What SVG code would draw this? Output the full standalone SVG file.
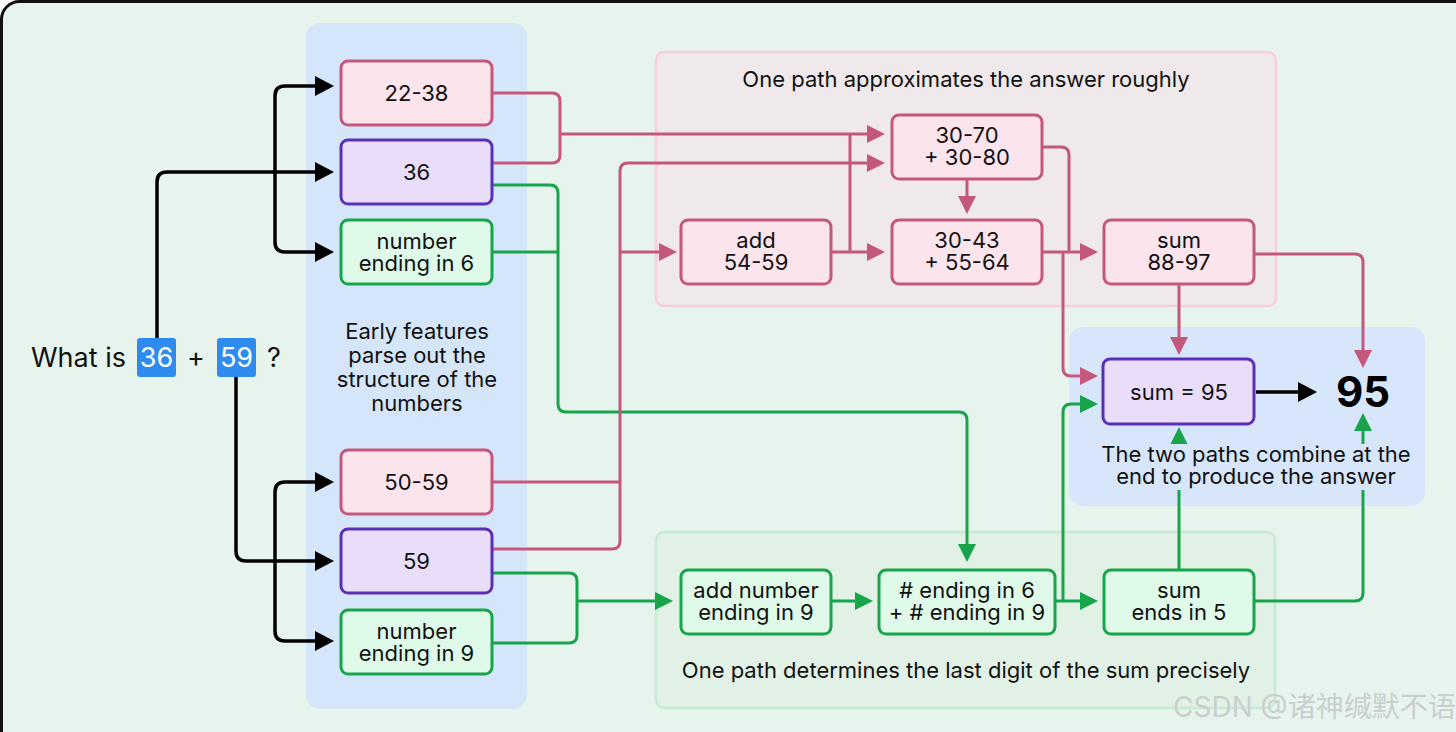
<svg xmlns="http://www.w3.org/2000/svg" width="1456" height="732" viewBox="0 0 1456 732">
<style>
.t{font-family:Inter,"Liberation Sans",sans-serif;font-size:22px;fill:#111;text-anchor:middle}
.pk{fill:#FCE4EC;stroke:#C4587C;stroke-width:3}
.pu{fill:#E9DDFA;stroke:#5B2FB5;stroke-width:3}
.gr{fill:#DFFAE8;stroke:#18A44B;stroke-width:3}
.cp{fill:none;stroke:#C4587C;stroke-width:3}
.cg{fill:none;stroke:#18A44B;stroke-width:3}
.cb{fill:none;stroke:#000;stroke-width:3.5}
.tok{fill:#2E8CF0}
</style>
<defs>
<marker id="ap" markerUnits="userSpaceOnUse" markerWidth="18" markerHeight="18" refX="14" refY="9" orient="auto" overflow="visible"><path d="M0,0 L18,9 L0,18 z" fill="#C4587C"/></marker>
<marker id="ag" markerUnits="userSpaceOnUse" markerWidth="18" markerHeight="18" refX="14" refY="9" orient="auto" overflow="visible"><path d="M0,0 L18,9 L0,18 z" fill="#18A44B"/></marker>
<marker id="ab" markerUnits="userSpaceOnUse" markerWidth="19" markerHeight="20" refX="15" refY="10" orient="auto" overflow="visible"><path d="M0,0 L19,10 L0,20 z" fill="#000"/></marker>
</defs>
<rect x="0" y="0" width="1456" height="732" fill="#fff"/>
<rect x="1.5" y="1.5" width="1500" height="800" rx="18" fill="#E7F4EE" stroke="#111" stroke-width="3"/>

<g id="panels">
<rect x="306" y="23" width="221" height="686" rx="14" fill="#D6E6FA"/>
<rect x="656" y="52" width="620" height="254" rx="8" fill="#EFE9EC" stroke="#F8CEDB" stroke-width="2.5"/>
<rect x="656" y="532" width="619" height="176" rx="8" fill="#E2F1E6" stroke="#C6EBD2" stroke-width="2.5"/>
<rect x="1069" y="327" width="356" height="179" rx="14" fill="#D7E6FA"/>
</g>

<g id="connectors">
<g id="green-connectors">
<path class="cg" d="M492,185 H550 Q558,185 558,193 V404 Q558,412 566,412 H959 Q967,412 967,420 V558" marker-end="url(#ag)"/>
<path class="cg" d="M492,252 H558"/>
<path class="cg" d="M492,573 H569 Q577,573 577,581 V635 Q577,643 569,643 H492"/>
<path class="cg" d="M577,601 H669" marker-end="url(#ag)"/>
<path class="cg" d="M831,601 H869" marker-end="url(#ag)"/>
<path class="cg" d="M1055,601 H1094" marker-end="url(#ag)"/>
<path class="cg" d="M1063,601 V412 Q1063,404 1071,404 H1094" marker-end="url(#ag)"/>
<path class="cg" d="M1179,570 V431" marker-end="url(#ag)"/>
<path class="cg" d="M1254,601 H1355 Q1363,601 1363,593 V417" marker-end="url(#ag)"/>
</g>
<g id="pink-connectors">
<path class="cp" d="M492,93 H552 Q560,93 560,101 V155 Q560,163 552,163 H492"/>
<path class="cp" d="M560,134 H881" marker-end="url(#ap)"/>
<path class="cp" d="M850,134 V252"/>
<path class="cp" d="M831,252 H881" marker-end="url(#ap)"/>
<path class="cp" d="M492,549 H612 Q620,549 620,541 V171 Q620,163 628,163 H881" marker-end="url(#ap)"/>
<path class="cp" d="M492,482 H620"/>
<path class="cp" d="M620,252 H673" marker-end="url(#ap)"/>
<path class="cp" d="M967,179 V210" marker-end="url(#ap)"/>
<path class="cp" d="M1042,147 H1061 Q1069,147 1069,155 V252"/>
<path class="cp" d="M1042,252 H1094" marker-end="url(#ap)"/>
<path class="cp" d="M1063,252 V368 Q1063,376 1071,376 H1094" marker-end="url(#ap)"/>
<path class="cp" d="M1179,284 V351" marker-end="url(#ap)"/>
<path class="cp" d="M1254,254 H1355 Q1363,254 1363,262 V364" marker-end="url(#ap)"/>
</g>
<g id="black-connectors">
<path class="cb" d="M157,338 V182 Q157,172 167,172 H330" marker-end="url(#ab)"/>
<path class="cb" d="M275,172 V96 Q275,86 285,86 H330" marker-end="url(#ab)"/>
<path class="cb" d="M275,172 V242 Q275,252 285,252 H330" marker-end="url(#ab)"/>
<path class="cb" d="M236,377 V551 Q236,561 246,561 H330" marker-end="url(#ab)"/>
<path class="cb" d="M275,561 V492 Q275,482 285,482 H330" marker-end="url(#ab)"/>
<path class="cb" d="M275,561 V631 Q275,641 285,641 H330" marker-end="url(#ab)"/>
<path class="cb" d="M1256,392 H1313" marker-end="url(#ab)"/>
</g>
</g>

<g id="question">
<text class="t" x="31" y="367" style="text-anchor:start;font-size:27px">What is</text>
<rect class="tok" x="137" y="338" width="39" height="39" rx="3"/>
<text class="t" x="156.5" y="367" style="font-size:27px;fill:#fff">36</text>
<text class="t" x="196" y="367" style="font-size:27px">+</text>
<rect class="tok" x="217" y="338" width="39" height="39" rx="3"/>
<text class="t" x="236.5" y="367" style="font-size:27px;fill:#fff">59</text>
<text class="t" x="274" y="367" style="font-size:27px">?</text>
</g>

<g id="n-22-38"><rect class="pk" x="341" y="61" width="151" height="64" rx="7"/><text class="t" x="416.5" y="101">22-38</text></g>
<g id="n-36"><rect class="pu" x="341" y="140" width="151" height="64" rx="7"/><text class="t" x="416.5" y="180">36</text></g>
<g id="n-end6"><rect class="gr" x="341" y="220" width="151" height="64" rx="7"/><text class="t" x="416.5" y="249">number<tspan x="416.5" dy="22">ending in 6</tspan></text></g>
<g id="n-50-59"><rect class="pk" x="341" y="450" width="151" height="64" rx="7"/><text class="t" x="416.5" y="490">50-59</text></g>
<g id="n-59"><rect class="pu" x="341" y="529" width="151" height="64" rx="7"/><text class="t" x="416.5" y="569">59</text></g>
<g id="n-end9"><rect class="gr" x="341" y="610" width="151" height="64" rx="7"/><text class="t" x="416.5" y="639">number<tspan x="416.5" dy="22">ending in 9</tspan></text></g>

<g id="cap-early">
<text class="t" x="417" y="339">Early features<tspan x="417" dy="24">parse out the</tspan><tspan x="417" dy="24">structure of the</tspan><tspan x="417" dy="24">numbers</tspan></text>
</g>

<g id="cap-rough"><text class="t" x="966" y="87">One path approximates the answer roughly</text></g>
<g id="n-30-70"><rect class="pk" x="892" y="115" width="150" height="64" rx="7"/><text class="t" x="967" y="143">30-70<tspan x="967" dy="22">+ 30-80</tspan></text></g>
<g id="n-add"><rect class="pk" x="681" y="220" width="150" height="64" rx="7"/><text class="t" x="756" y="248">add<tspan x="756" dy="22">54-59</tspan></text></g>
<g id="n-30-43"><rect class="pk" x="892" y="220" width="150" height="64" rx="7"/><text class="t" x="967" y="248">30-43<tspan x="967" dy="22">+ 55-64</tspan></text></g>
<g id="n-sum8897"><rect class="pk" x="1104" y="220" width="150" height="64" rx="7"/><text class="t" x="1179" y="248">sum<tspan x="1179" dy="22">88-97</tspan></text></g>

<g id="cap-precise"><text class="t" x="966" y="678">One path determines the last digit of the sum precisely</text></g>
<g id="n-addnum"><rect class="gr" x="681" y="570" width="150" height="64" rx="7"/><text class="t" x="756" y="598">add number<tspan x="756" dy="22">ending in 9</tspan></text></g>
<g id="n-ending"><rect class="gr" x="879" y="570" width="176" height="64" rx="7"/><text class="t" x="967" y="598"># ending in 6<tspan x="967" dy="22">+ # ending in 9</tspan></text></g>
<g id="n-ends5"><rect class="gr" x="1104" y="570" width="150" height="64" rx="7"/><text class="t" x="1179" y="598">sum<tspan x="1179" dy="22">ends in 5</tspan></text></g>

<g id="n-sum95"><rect class="pu" x="1103" y="359" width="151" height="65" rx="7"/><text class="t" x="1179" y="400">sum = 95</text></g>
<g id="n-95"><text class="t" x="1363" y="407" style="font-size:42px;font-weight:700;fill:#000">95</text></g>
<g id="cap-combine">
<rect x="1094" y="444" width="326" height="46" fill="#D7E6FA"/>
<text class="t" x="1256" y="462">The two paths combine at the<tspan x="1256" dy="22">end to produce the answer</tspan></text>
</g>

<text x="1173" y="717" style="font-family:Inter,'Liberation Sans','Noto Sans CJK SC',sans-serif;font-size:28px;fill:#C9CFCD">CSDN @诸神缄默不语</text>
</svg>
